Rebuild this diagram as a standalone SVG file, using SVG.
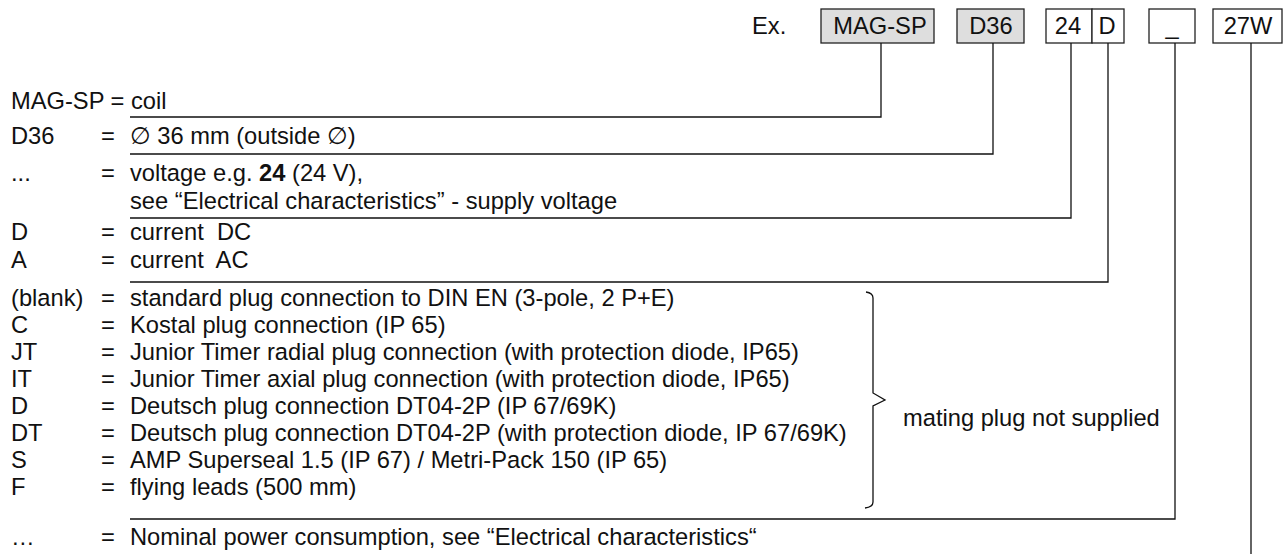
<svg xmlns="http://www.w3.org/2000/svg" width="1283" height="554" viewBox="0 0 1283 554">
<style>
text{font-family:"Liberation Sans",Arial,"DejaVu Sans",sans-serif;font-size:23.7px;fill:#111;white-space:pre}
.box{fill:#fff;stroke:#222;stroke-width:1.3}
.grey{fill:#dedede}
.c{text-anchor:middle}
.ln{fill:none;stroke:#111;stroke-width:1.3}
</style>
<rect width="1283" height="554" fill="#fff"/>
<g id="header">
<text x="752" y="34">Ex.</text>
</g>
<g id="node-magsp"><rect class="box grey" x="821" y="9" width="113" height="34"/><text class="c" x="880" y="34">MAG-SP</text></g>
<g id="node-d36"><rect class="box grey" x="957" y="9" width="67" height="34"/><text class="c" x="991" y="34">D36</text></g>
<g id="node-24"><rect class="box" x="1046" y="9" width="46" height="34"/><text class="c" x="1068" y="34">24</text></g>
<g id="node-d"><rect class="box" x="1092" y="9" width="32" height="34"/><text class="c" x="1107" y="34">D</text></g>
<g id="node-blank"><rect class="box" x="1149" y="9" width="46" height="34"/><text class="c" x="1172" y="34">_</text></g>
<g id="node-27w"><rect class="box" x="1213" y="9" width="69" height="34"/><text class="c" x="1248" y="34">27W</text></g>
<g id="connectors">
<polyline class="ln" points="130,117 881,117 881,43"/>
<polyline class="ln" points="130,154 993,154 993,43"/>
<polyline class="ln" points="130,218 1071,218 1071,43"/>
<polyline class="ln" points="130,282 1108,282 1108,43"/>
<polyline class="ln" points="130,519 1175,519 1175,43"/>
<polyline class="ln" points="1251,43 1251,554"/>
<path class="ln" d="M866,292 Q873,293 873,298 L873,393 L885,400 L873,406 L873,502 Q873,507 865,508"/>
</g>
<g id="legend">
<text x="11" y="109">MAG-SP = coil</text>
<text x="11" y="144">D36</text><text x="101" y="144">=</text><text x="130" y="144">∅ 36 mm (outside ∅)</text>
<text x="11" y="181">...</text><text x="101" y="181">=</text><text x="130" y="181">voltage e.g. <tspan font-weight="bold">24</tspan> (24 V),</text>
<text x="130" y="209">see “Electrical characteristics” - supply voltage</text>
<text x="11" y="240">D</text><text x="101" y="240">=</text><text x="130" y="240">current  DC</text>
<text x="11" y="268">A</text><text x="101" y="268">=</text><text x="130" y="268">current  AC</text>
<text x="11" y="306">(blank)</text><text x="101" y="306">=</text><text x="130" y="306">standard plug connection to DIN EN (3-pole, 2 P+E)</text>
<text x="11" y="333">C</text><text x="101" y="333">=</text><text x="130" y="333">Kostal plug connection (IP 65)</text>
<text x="11" y="360">JT</text><text x="101" y="360">=</text><text x="130" y="360">Junior Timer radial plug connection (with protection diode, IP65)</text>
<text x="11" y="387">IT</text><text x="101" y="387">=</text><text x="130" y="387">Junior Timer axial plug connection (with protection diode, IP65)</text>
<text x="11" y="414">D</text><text x="101" y="414">=</text><text x="130" y="414">Deutsch plug connection DT04-2P (IP 67/69K)</text>
<text x="11" y="441">DT</text><text x="101" y="441">=</text><text x="130" y="441">Deutsch plug connection DT04-2P (with protection diode, IP 67/69K)</text>
<text x="11" y="468">S</text><text x="101" y="468">=</text><text x="130" y="468">AMP Superseal 1.5 (IP 67) / Metri-Pack 150 (IP 65)</text>
<text x="11" y="495">F</text><text x="101" y="495">=</text><text x="130" y="495">flying leads (500 mm)</text>
<text x="903" y="426">mating plug not supplied</text>
<text x="11" y="545">…</text><text x="101" y="545">=</text><text x="130" y="545">Nominal power consumption, see “Electrical characteristics“</text>
</g>
</svg>
